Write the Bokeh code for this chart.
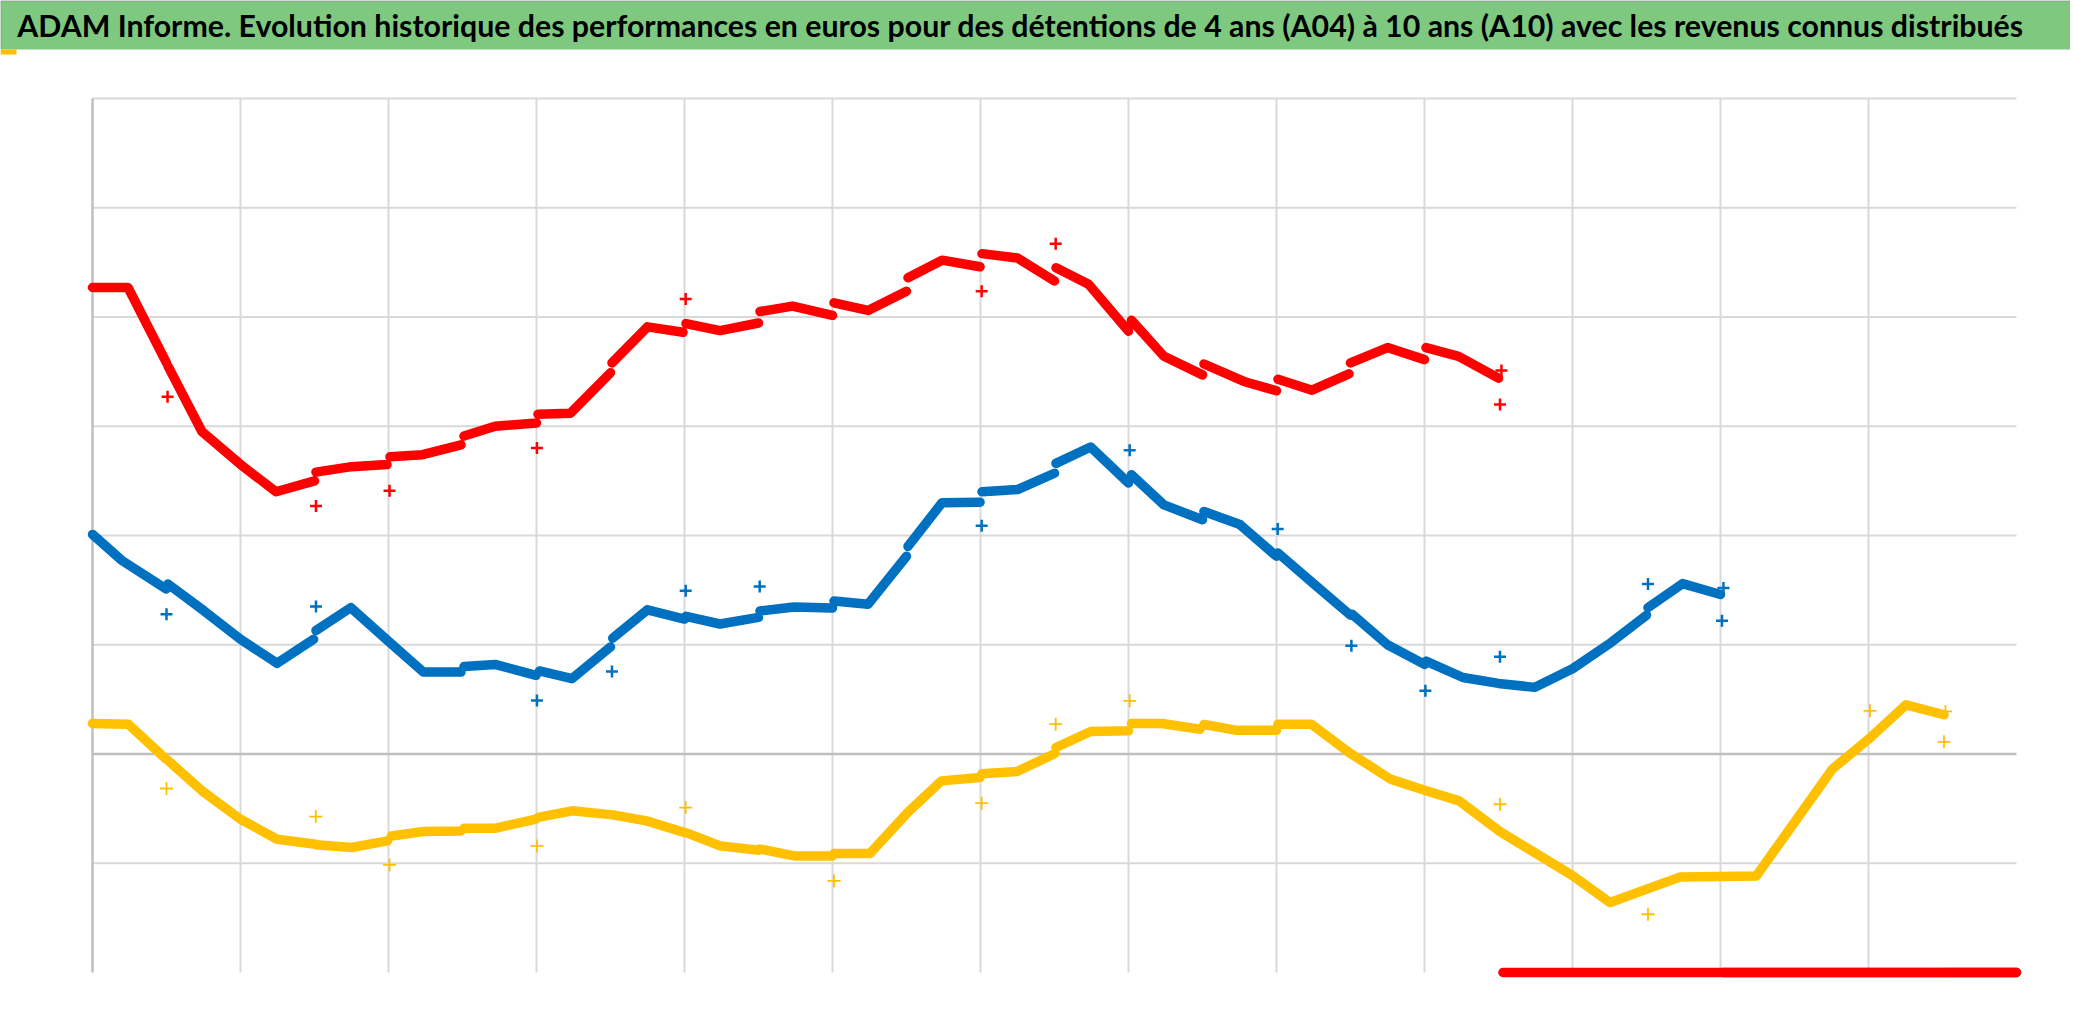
from bokeh.plotting import figure
from bokeh.models import Range1d
from bokeh.core.properties import value
from bokeh.embed import file_html
from bokeh.resources import INLINE

nan = float("nan")

TITLE = ("ADAM Informe. Evolution historique des performances en euros pour des "
         "détentions de 4 ans (A04) à 10 ans (A10) avec les revenus connus distribués")

# time in grid periods, value in grid units (NaN = break at a distribution date)
a10_x = [0.0, 0.24, 0.50, nan, 0.51, 0.74, 1.0, 1.24, 1.50, nan, 1.51, 1.75, 1.99, nan,
         2.01, 2.23, 2.49, nan, 2.51, 2.72, 3.0, nan, 3.01, 3.23, 3.50, nan, 3.51, 3.75, 3.99, nan,
         4.01, 4.24, 4.50, nan, 4.51, 4.73, 5.0, nan, 5.01, 5.24, 5.50, nan, 5.51, 5.74, 5.997, nan,
         6.01, 6.25, 6.50, nan, 6.51, 6.73, 7.0, nan, 7.02, 7.24, 7.50, nan, 7.51, 7.78, 8.0, nan,
         8.01, 8.24, 8.49, nan, 8.50, 8.75, 9.0, nan, 9.01, 9.23, 9.50, nan, 9.53, 13.0]
a10_y = [4.27, 4.27, 3.58, nan, 3.55, 2.95, 2.65, 2.40, 2.50, nan, 2.58, 2.63, 2.65, nan,
         2.72, 2.74, 2.83, nan, 2.91, 3.00, 3.03, nan, 3.11, 3.12, 3.49, nan, 3.58, 3.91, 3.86, nan,
         3.94, 3.875, 3.945, nan, 4.05, 4.10, 4.015, nan, 4.13, 4.06, 4.235, nan, 4.36, 4.52, 4.46, nan,
         4.58, 4.54, 4.33, nan, 4.45, 4.30, 3.87, nan, 3.97, 3.64, 3.47, nan, 3.57, 3.41, 3.325, nan,
         3.43, 3.33, 3.48, nan, 3.58, 3.72, 3.61, nan, 3.72, 3.64, 3.44, nan, -2.0, -2.0]
a10_rev_x = [0.507, 1.51, 2.007, 3.003, 4.008, 6.008, 6.508, 9.51, 9.52]
a10_rev_y = [3.27, 2.27, 2.41, 2.80, 4.165, 4.235, 4.67, 3.20, 3.51]

a07_x = [0.0, 0.2, 0.498, nan, 0.51, 0.754, 1.0, 1.247, 1.494, nan, 1.51, 1.745, 1.993, 2.235, 2.49, nan,
         2.51, 2.72, 2.997, nan, 3.02, 3.24, 3.50, nan, 3.515, 3.75, 4.0, nan, 4.01, 4.24, 4.5, nan,
         4.51, 4.74, 5.0, nan, 5.01, 5.24, 5.5, nan, 5.51, 5.74, 5.997, nan, 6.01, 6.25, 6.50, nan,
         6.51, 6.744, 7.0, nan, 7.02, 7.24, 7.50, nan, 7.51, 7.753, 8.0, nan, 8.01, 8.25, 8.50, nan,
         8.51, 8.75, 9.0, nan, 9.01, 9.26, 9.50, 9.746, 10.0, 10.26, 10.50, nan, 10.51, 10.744, 11.0, nan,
         11.02, 13.0]
a07_y = [2.01, 1.77, 1.51, nan, 1.556, 1.31, 1.05, 0.83, 1.05, nan, 1.13, 1.34, 1.04, 0.75, 0.75, nan,
         0.80, 0.82, 0.72, nan, 0.76, 0.69, 0.98, nan, 1.06, 1.32, 1.235, nan, 1.26, 1.19, 1.25, nan,
         1.31, 1.345, 1.336, nan, 1.40, 1.37, 1.81, nan, 1.90, 2.30, 2.305, nan, 2.40, 2.42, 2.57, nan,
         2.66, 2.81, 2.48, nan, 2.556, 2.28, 2.144, nan, 2.22, 2.10, 1.81, nan, 1.84, 1.56, 1.27, nan,
         1.28, 1.0, 0.82, nan, 0.85, 0.70, 0.646, 0.61, 0.78, 1.02, 1.27, nan, 1.34, 1.56, 1.46, nan,
         -2.0, -2.0]
a07_rev_x = [0.5, 1.51, 3.003, 3.51, 4.008, 4.508, 6.008, 7.008, 8.008, 8.506, 9.006, 9.51, 10.51, 11.01, 11.02]
a07_rev_y = [1.28, 1.35, 0.49, 0.756, 1.495, 1.534, 2.09, 2.78, 2.06, 0.99, 0.58, 0.89, 1.556, 1.22, 1.52]

a04_x = [0.0, 0.242, 0.498, nan, 0.51, 0.74, 1.0, 1.247, 1.509, nan, 1.51, 1.75, 1.993, nan,
         2.02, 2.235, 2.49, nan, 2.51, 2.718, 2.997, nan, 3.01, 3.24, 3.515, 3.743, 4.0, nan,
         4.01, 4.241, 4.5, nan, 4.51, 4.741, 5.0, nan, 5.01, 5.253, 5.508, 5.736, 5.997, nan,
         6.01, 6.247, 6.503, nan, 6.51, 6.744, 7.0, nan, 7.02, 7.227, 7.483, nan, 7.51, 7.724, 8.0, nan,
         8.01, 8.236, 8.49, 8.77, 9.0, 9.234, 9.504, nan, 9.51, 10.003, 10.254, 10.729, 11.242,
         11.755, 12.0, 12.254, 12.51, nan, 12.53, 13.0]
a04_y = [0.28, 0.273, -0.047, nan, -0.06, -0.337, -0.597, -0.78, -0.826, nan, -0.83, -0.856, -0.795, nan,
         -0.75, -0.71, -0.704, nan, -0.68, -0.68, -0.597, nan, -0.58, -0.52, -0.557, -0.612, -0.719, nan,
         -0.72, -0.841, -0.881, nan, -0.87, -0.933, -0.933, nan, -0.911, -0.911, -0.536, -0.246, -0.215, nan,
         -0.18, -0.16, 0.005, nan, 0.06, 0.206, 0.212, nan, 0.279, 0.279, 0.227, nan, 0.27, 0.218, 0.218, nan,
         0.273, 0.273, 0.014, -0.23, -0.331, -0.429, -0.704, nan, -0.71, -1.116, -1.36, -1.125, -1.116,
         -0.139, 0.136, 0.45, 0.359, nan, -2.0, -2.0]
a04_rev_x = [0.5, 1.509, 2.007, 3.003, 4.008, 5.01, 6.008, 6.508, 7.008, 9.51, 10.51, 12.01, 12.51, 12.52]
a04_rev_y = [-0.316, -0.573, -1.015, -0.841, -0.49, -1.162, -0.45, 0.273, 0.487, -0.46, -1.467, 0.395, 0.111, 0.39]

x_grid = [1, 2, 3, 4, 5, 6, 7, 8, 9, 10, 11, 12]
y_grid = [-1, 1, 2, 3, 4, 5, 6]
X_MIN, X_MAX, Y_MIN, Y_MAX = 0, 13, -2, 6

RED, BLUE, GOLD = "#ff0000", "#0070c0", "#ffc000"
GRID, AXIS = "#d9d9d9", "#bfbfbf"
GREEN = "#7ec97f"

# ---- layout (canvas pixels) ----
W, H = 2070, 1015
PLOT_LEFT, PLOT_TOP = 92, 98          # pixel of (X_MIN, Y_MAX)
PX_X, PX_Y = 148.0, 109.25            # pixels per unit
BAR_H = 49


def dx(px):
    return X_MIN + (px - PLOT_LEFT) / PX_X


def dy(py):
    return Y_MAX - (py - PLOT_TOP) / PX_Y


p = figure(width=W, height=H, x_range=Range1d(dx(0), dx(W)), y_range=Range1d(dy(H), dy(0)),
           output_backend="svg", toolbar_location=None, title=None,
           x_axis_location=None, y_axis_location=None, min_border=0)
p.outline_line_color = None
p.background_fill_color = "white"
p.border_fill_color = "white"
p.xgrid.visible = False
p.ygrid.visible = False

# title bar
p.quad(left=[dx(0)], right=[dx(W)], top=[dy(0)], bottom=[dy(BAR_H)],
       fill_color=GREEN, line_color=None)
p.segment(x0=[dx(0)], x1=[dx(W)], y0=[dy(0.5)], y1=[dy(0.5)], line_color="#9a9a9a", line_width=1)
p.segment(x0=[dx(0.5)], x1=[dx(0.5)], y0=[dy(0)], y1=[dy(BAR_H)], line_color="#9a9a9a", line_width=1)
p.text(x=[dx(1020)], y=[dy(24)], text=[TITLE], text_font=value("Lato"),
       text_font_style="bold", text_font_size="30.3px", text_color="#000000",
       text_baseline="middle", text_align="center")
# selection handle at top-left corner
p.quad(left=[dx(0)], right=[dx(16)], top=[dy(49)], bottom=[dy(54)], fill_color=GOLD, line_color=None)

# grid
p.segment(x0=x_grid, x1=x_grid, y0=[Y_MIN] * len(x_grid), y1=[Y_MAX] * len(x_grid),
          line_color=GRID, line_width=2)
p.segment(x0=[X_MIN] * len(y_grid), x1=[X_MAX] * len(y_grid), y0=y_grid, y1=y_grid,
          line_color=GRID, line_width=2)
p.segment(x0=[X_MIN], x1=[X_MAX], y0=[0], y1=[0], line_color=AXIS, line_width=2.5)
p.segment(x0=[X_MIN], x1=[X_MIN], y0=[Y_MIN], y1=[Y_MAX], line_color=AXIS, line_width=2.5)

for xs, ys, c in ((a04_x, a04_y, GOLD), (a07_x, a07_y, BLUE), (a10_x, a10_y, RED)):
    p.line(xs, ys, line_color=c, line_width=9.5, line_join="round", line_cap="round")

p.scatter(a04_rev_x, a04_rev_y, marker="cross", size=13, line_width=1.8, color=GOLD)
p.scatter(a07_rev_x, a07_rev_y, marker="cross", size=12, line_width=2.5, color=BLUE)
p.scatter(a10_rev_x, a10_rev_y, marker="cross", size=12, line_width=2.5, color=RED)

open("out.html", "w").write(file_html(p, INLINE))
